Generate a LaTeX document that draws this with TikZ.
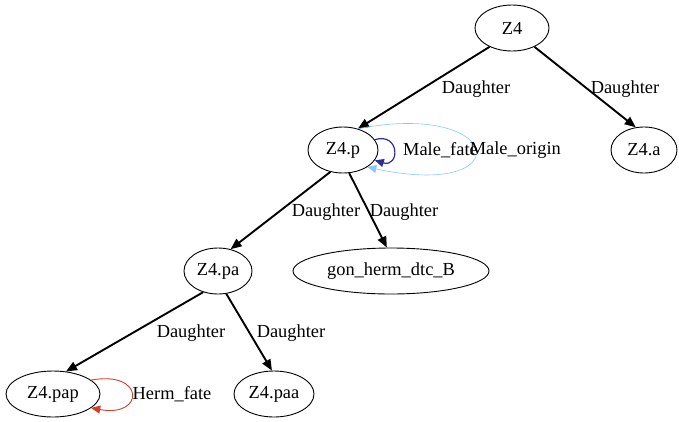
\documentclass[tikz,border=0pt]{standalone}
\usepackage{fontspec}
\setmainfont{Liberation Serif}
\usetikzlibrary{shapes.geometric,arrows.meta}
\definecolor{mfblue}{RGB}{45,45,150}
\definecolor{moblue}{RGB}{135,200,245}
\definecolor{hfred}{RGB}{215,60,40}
\begin{document}
\begin{tikzpicture}[x=1pt,y=-1pt,
  nd/.style={ellipse,draw,line width=0.9pt,minimum height=46pt,inner sep=0pt,font=\fontsize{18.4}{20}\selectfont},
  lbl/.style={font=\fontsize{18.4}{20}\selectfont,inner sep=0pt},
  edge/.style={line width=1.9pt,-{Triangle[length=11pt,width=9pt]}}]
\useasboundingbox (0,0) rectangle (679,421);
\node[nd,minimum width=74pt] (z4) at (512,28) {Z4};
\node[nd,minimum width=66pt] (z4a) at (644,150) {Z4.a};
\node[nd,minimum width=70pt] (z4p) at (343,150) {Z4.p};
\node[nd,minimum width=196pt] (gon) at (391,271) {gon\_herm\_dtc\_B};
\node[nd,minimum width=68pt] (z4pa) at (218,271) {Z4.pa};
\node[nd,minimum width=94pt] (z4pap) at (53,394) {Z4.pap};
\node[nd,minimum width=80pt] (z4paa) at (274,394) {Z4.paa};

\draw[edge] (z4.220) -- (z4p.55);
\draw[edge] (z4.-40) -- (z4a.110);
\draw[edge] (z4p.-120) -- (z4pa.60);
\draw[edge] (z4p.-75) -- (gon.100);
\draw[edge] (z4pa.-125) -- (z4pap.60);
\draw[edge] (z4pa.-70) -- (z4paa.95);

\draw[line width=0.6pt,moblue,-{Triangle[length=9pt,width=8pt]}] (z4p.55) .. controls (505,100) and (520,200) .. (z4p.-35);
\draw[line width=1.2pt,mfblue,-{Triangle[length=9pt,width=8pt]}] (z4p.18) .. controls (400,132) and (400,168) .. (z4p.-18);
\draw[line width=0.9pt,hfred,-{Triangle[length=9pt,width=8pt]}] (z4pap.20) .. controls (145,370) and (145,418) .. (z4pap.-20);

\node[lbl] (l1) at (476,89) {Daughter};
\node[lbl] (l2) at (625,89) {Daughter};
\node[lbl] (l3) at (326,212) {Daughter};
\node[lbl] (l4) at (404,212) {Daughter};
\node[lbl] (l5) at (191,333) {Daughter};
\node[lbl] (l6) at (291,333) {Daughter};
\node[lbl,anchor=west] (lmf) at (403,150) {Male\_fate};
\node[lbl,anchor=east] (lmo) at (561,150) {Male\_origin};
\node[lbl] (lhf) at (172,394) {Herm\_fate};
\end{tikzpicture}
\end{document}
